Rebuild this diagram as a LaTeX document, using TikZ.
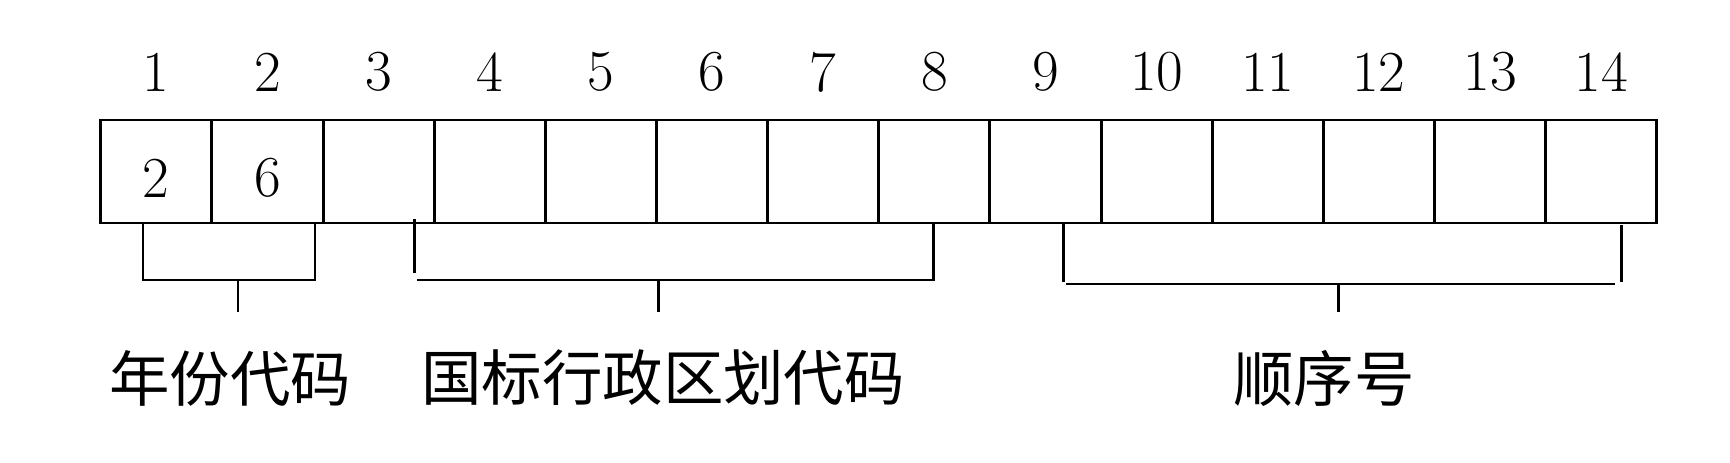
\documentclass[tikz,border=0pt]{standalone}
\usepackage{fontspec}
\newfontfamily\zhfont{Noto Sans CJK SC}
\usetikzlibrary{positioning}

\begin{document}
\begin{tikzpicture}[
    cell/.style={draw, line width=0.85pt, inner sep=0pt, outer sep=0pt, minimum width=1.1115cm, minimum height=1.03cm},
    num/.style={inner sep=0pt, font=\fontsize{16.5}{18}\selectfont},
    zh/.style={inner sep=0pt, font=\zhfont\fontsize{17.2}{20}\selectfont},
    brace/.style={line width=0.85pt}]
    \useasboundingbox (0,0) rectangle (17.30,-4.62);

    \node[cell] (c_1) at (1.5628,-1.715) {};
    \node[cell, right=0pt of c_1] (c_2) {};
    \node[cell, right=0pt of c_2] (c_3) {};
    \node[cell, right=0pt of c_3] (c_4) {};
    \node[cell, right=0pt of c_4] (c_5) {};
    \node[cell, right=0pt of c_5] (c_6) {};
    \node[cell, right=0pt of c_6] (c_7) {};
    \node[cell, right=0pt of c_7] (c_8) {};
    \node[cell, right=0pt of c_8] (c_9) {};
    \node[cell, right=0pt of c_9] (c_10) {};
    \node[cell, right=0pt of c_10] (c_11) {};
    \node[cell, right=0pt of c_11] (c_12) {};
    \node[cell, right=0pt of c_12] (c_13) {};
    \node[cell, right=0pt of c_13] (c_14) {};

    \node[num] (n_1) at ([yshift=4.8mm]c_1.north) {1};
    \node[num] (n_2) at ([yshift=4.8mm]c_2.north) {2};
    \node[num] (n_3) at ([yshift=4.8mm]c_3.north) {3};
    \node[num] (n_4) at ([yshift=4.8mm]c_4.north) {4};
    \node[num] (n_5) at ([yshift=4.8mm]c_5.north) {5};
    \node[num] (n_6) at ([yshift=4.8mm]c_6.north) {6};
    \node[num] (n_7) at ([yshift=4.8mm]c_7.north) {7};
    \node[num] (n_8) at ([yshift=4.8mm]c_8.north) {8};
    \node[num] (n_9) at ([yshift=4.8mm]c_9.north) {9};
    \node[num] (n_10) at ([yshift=4.8mm]c_10.north) {10};
    \node[num] (n_11) at ([yshift=4.8mm]c_11.north) {11};
    \node[num] (n_12) at ([yshift=4.8mm]c_12.north) {12};
    \node[num] (n_13) at ([yshift=4.8mm]c_13.north) {13};
    \node[num] (n_14) at ([yshift=4.8mm]c_14.north) {14};

    \node[num] (v_1) at ([yshift=-0.65mm]c_1.center) {2};
    \node[num] (v_2) at ([yshift=-0.65mm]c_2.center) {6};

    \coordinate (y_1) at (1.43,-2.23);
    \coordinate (y_2) at (3.15,-2.23);
    \coordinate (y_3) at (2.38,-2.80);
    \coordinate (y_4) at (2.38,-3.12);
    \draw[brace] (y_1) |- (y_2 |- y_3) -- (y_2);
    \draw[brace] (y_3) -- (y_4);
    \node[zh] (l_1) at (2.30,-3.78) {年份代码};

    \coordinate (r_1) at (4.14,-2.19);
    \coordinate (r_2) at (4.14,-2.73);
    \coordinate (r_3) at (4.17,-2.80);
    \coordinate (r_4) at (9.33,-2.80);
    \coordinate (r_5) at (9.33,-2.23);
    \coordinate (r_6) at (6.58,-2.80);
    \coordinate (r_7) at (6.58,-3.12);
    \draw[brace] (r_1) -- (r_2);
    \draw[brace] (r_3) -- (r_4) -- (r_5);
    \draw[brace] (r_6) -- (r_7);
    \node[zh] (l_2) at (6.63,-3.78) {国标行政区划代码};

    \coordinate (s_1) at (10.63,-2.23);
    \coordinate (s_2) at (10.63,-2.82);
    \coordinate (s_3) at (10.66,-2.84);
    \coordinate (s_4) at (16.15,-2.84);
    \coordinate (s_5) at (16.21,-2.25);
    \coordinate (s_6) at (16.21,-2.82);
    \coordinate (s_7) at (13.38,-2.84);
    \coordinate (s_8) at (13.38,-3.12);
    \draw[brace] (s_1) -- (s_2);
    \draw[brace] (s_3) -- (s_4);
    \draw[brace] (s_5) -- (s_6);
    \draw[brace] (s_7) -- (s_8);
    \node[zh] (l_3) at (13.24,-3.78) {顺序号};
\end{tikzpicture}
\end{document}
